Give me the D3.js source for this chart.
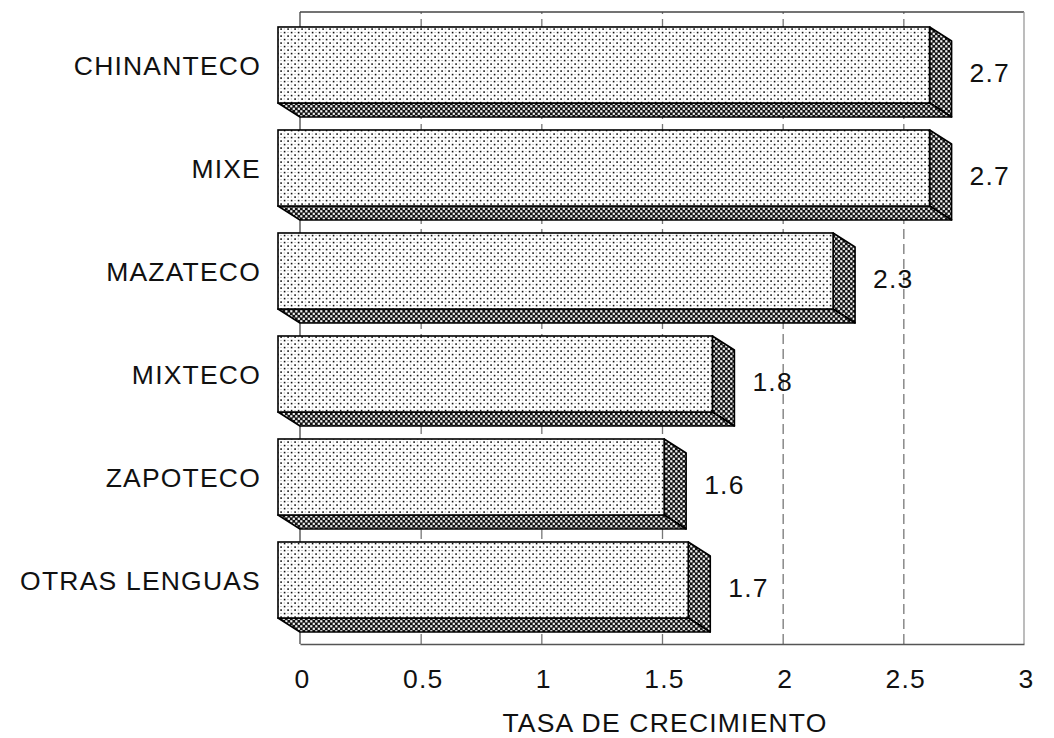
<!DOCTYPE html>
<html>
<head>
<meta charset="utf-8">
<script src="https://cdn.jsdelivr.net/npm/d3@7"></script>
<style>
  html, body { margin: 0; padding: 0; background: #fff; }
  svg { display: block; }
  text { font-family: "Liberation Sans", Arial, Helvetica, sans-serif; fill: #111; }
</style>
</head>
<body>
<div id="chart"></div>
<script>
// ---- data ----
const categories = ["CHINANTECO", "MIXE", "MAZATECO", "MIXTECO", "ZAPOTECO", "OTRAS LENGUAS"];
const values = [2.7, 2.7, 2.3, 1.8, 1.6, 1.7];
const tickValues = [0, 0.5, 1, 1.5, 2, 2.5, 3];
const tickLabels = ["0", "0.5", "1", "1.5", "2", "2.5", "3"];
const axisTitle = "TASA DE CRECIMIENTO";

// ---- layout ----
const W = 1054, H = 738;
const plot = { left: 300, right: 1024, top: 12, bottom: 644 };
const depth = { dx: 22, dy: 14 };
const FS = "26.5px", LS = "1.2px";

const svg = d3.select("#chart").append("svg")
  .attr("width", W).attr("height", H);

svg.append("rect").attr("width", W).attr("height", H).attr("fill", "#fff");

const defs = svg.append("defs");
// light dotted pattern (front face)
const pf = defs.append("pattern").attr("id", "front").attr("patternUnits", "userSpaceOnUse")
  .attr("width", 7).attr("height", 7);
pf.append("rect").attr("width", 7).attr("height", 7).attr("fill", "#ffffff");
pf.append("rect").attr("x", 0.3).attr("y", 0.3).attr("width", 1.6).attr("height", 1.6).attr("fill", "#111");
pf.append("rect").attr("x", 3.8).attr("y", 3.8).attr("width", 1.6).attr("height", 1.6).attr("fill", "#111");
pf.append("rect").attr("x", 3.8).attr("y", 0.5).attr("width", 1).attr("height", 1).attr("fill", "#999");
pf.append("rect").attr("x", 0.5).attr("y", 4).attr("width", 1).attr("height", 1).attr("fill", "#999");
// dark checker pattern (depth faces)
const pd = defs.append("pattern").attr("id", "side").attr("patternUnits", "userSpaceOnUse")
  .attr("width", 5).attr("height", 5);
pd.append("rect").attr("width", 5).attr("height", 5).attr("fill", "#111");
pd.append("rect").attr("x", 0.2).attr("y", 0.2).attr("width", 2.2).attr("height", 2.2).attr("fill", "#f4f4f4");
pd.append("rect").attr("x", 2.7).attr("y", 2.7).attr("width", 2.2).attr("height", 2.2).attr("fill", "#f4f4f4");

const x = d3.scaleLinear().domain([0, 3]).range([plot.left, plot.right]);
const y = d3.scaleBand().domain(categories).range([14, 659]).paddingInner(0.262).paddingOuter(0.262);

// ---- grid ----
const grid = svg.append("g")
  .attr("transform", `translate(0,${plot.bottom})`)
  .call(d3.axisBottom(x).tickValues(tickValues.slice(1, -1)).tickSize(-(plot.bottom - plot.top)).tickFormat(""));
grid.select(".domain").remove();
grid.selectAll(".tick line").attr("stroke", "#777").attr("stroke-width", 1.3).attr("stroke-dasharray", "10,5");

// ---- frame ----
svg.append("line").attr("x1", plot.left).attr("x2", plot.right).attr("y1", plot.top).attr("y2", plot.top)
  .attr("stroke", "#444").attr("stroke-width", 1.3);
svg.append("line").attr("x1", plot.right).attr("x2", plot.right).attr("y1", plot.top).attr("y2", plot.bottom)
  .attr("stroke", "#999").attr("stroke-width", 1.3);
svg.append("line").attr("x1", plot.left).attr("x2", plot.left).attr("y1", plot.top).attr("y2", plot.bottom)
  .attr("stroke", "#444").attr("stroke-width", 1.3);

// ---- x axis ----
const xa = svg.append("g")
  .attr("transform", `translate(0,${plot.bottom})`)
  .call(d3.axisBottom(x).tickValues(tickValues).tickSize(0).tickPadding(25)
    .tickFormat((d, i) => tickLabels[i]));
xa.select(".domain").attr("stroke", "#555").attr("stroke-width", 1.3);
xa.selectAll("text")
  .style("font-family", '"Liberation Sans", Arial, sans-serif')
  .style("font-size", FS).style("letter-spacing", LS).attr("fill", "#111")
  .attr("dx", "2px");

svg.append("text")
  .attr("x", (plot.left + plot.right) / 2 + 3).attr("y", 732)
  .attr("text-anchor", "middle")
  .style("font-size", FS).style("letter-spacing", LS)
  .text(axisTitle);

// ---- bars ----
const data = categories.map((c, i) => ({ c, v: values[i] }));
const bars = svg.append("g").selectAll("g").data(data).join("g");

bars.each(function (d) {
  const g = d3.select(this);
  const bx0 = x(0), bx1 = x(d.v);
  const by0 = y(d.c), by1 = y(d.c) + y.bandwidth();
  const fx0 = bx0 - depth.dx, fx1 = bx1 - depth.dx;
  const fy0 = by0 - depth.dy, fy1 = by1 - depth.dy;
  // right depth face
  g.append("path")
    .attr("d", `M${fx1},${fy0}L${bx1},${by0}L${bx1},${by1}L${fx1},${fy1}Z`)
    .attr("fill", "url(#side)").attr("stroke", "#000").attr("stroke-width", 1.6).attr("stroke-linejoin", "round");
  // bottom depth face
  g.append("path")
    .attr("d", `M${fx0},${fy1}L${fx1},${fy1}L${bx1},${by1}L${bx0},${by1}Z`)
    .attr("fill", "url(#side)").attr("stroke", "#000").attr("stroke-width", 1.6).attr("stroke-linejoin", "round");
  // front face
  g.append("rect")
    .attr("x", fx0).attr("y", fy0).attr("width", fx1 - fx0).attr("height", fy1 - fy0)
    .attr("fill", "url(#front)").attr("stroke", "#000").attr("stroke-width", 1.6);
});

// ---- value labels ----
svg.append("g").selectAll("text").data(data).join("text")
  .attr("x", d => x(d.v) + 18)
  .attr("y", d => y(d.c) + y.bandwidth() / 2 - depth.dy / 2 + 10)
  .style("font-size", FS).style("letter-spacing", LS)
  .text(d => d3.format(".1f")(d.v));

// ---- category labels ----
svg.append("g").selectAll("text").data(data).join("text")
  .attr("x", 261)
  .attr("y", d => y(d.c) - depth.dy + y.bandwidth() / 2 + 10)
  .attr("text-anchor", "end")
  .style("font-size", FS).style("letter-spacing", LS)
  .text(d => d.c);
</script>
</body>
</html>
